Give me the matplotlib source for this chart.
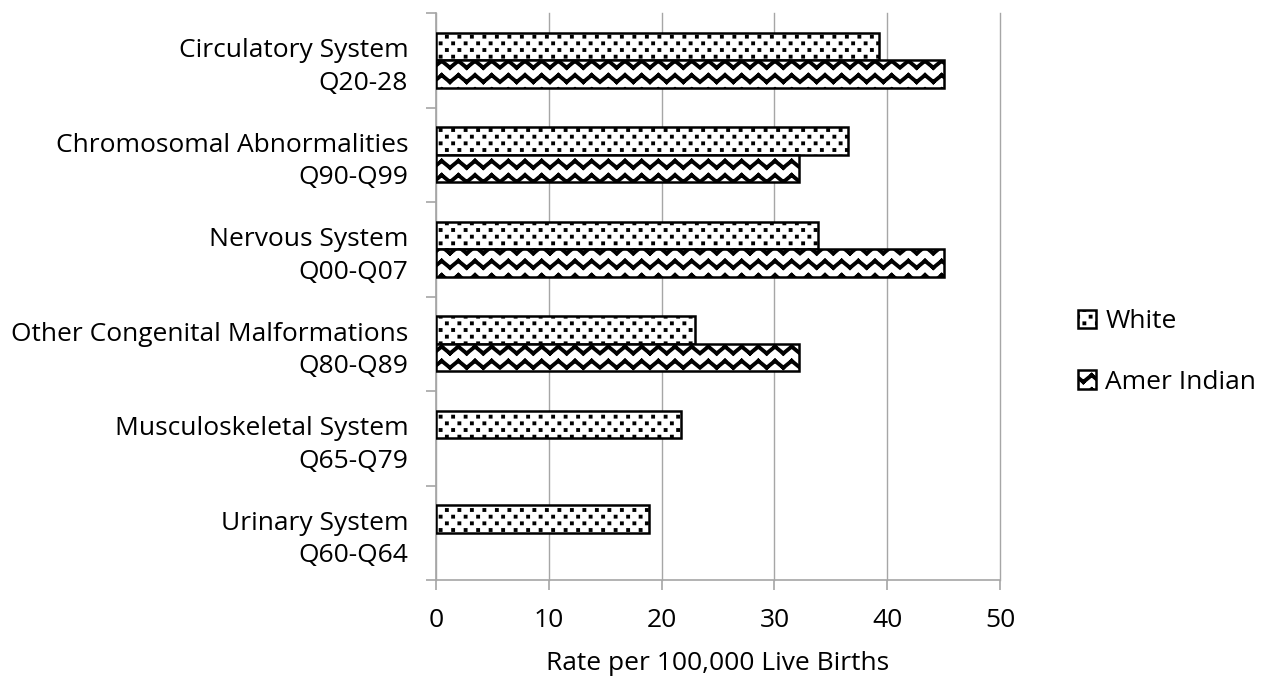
import numpy as np
import matplotlib
matplotlib.use("Agg")
import matplotlib.pyplot as plt
import matplotlib.hatch as mhatch
from matplotlib.path import Path

categories = [
    "Circulatory System\nQ20-28",
    "Chromosomal Abnormalities\nQ90-Q99",
    "Nervous System\nQ00-Q07",
    "Other Congenital Malformations\nQ80-Q89",
    "Musculoskeletal System\nQ65-Q79",
    "Urinary System\nQ60-Q64",
]
white = [39.3, 36.5, 33.9, 23.0, 21.7, 18.9]
amer_indian = [45.0, 32.2, 45.0, 32.2, 0, 0]
series_names = ["White", "Amer Indian"]
xticks = [0, 10, 20, 30, 40, 50]


# excel-like fill patterns: '-' becomes zigzag rows, '.' becomes staggered square dots
class ZigzagHatch(mhatch.HatchPatternBase):
    def __init__(self, hatch, density):
        n = hatch.count('-')
        self.rows = 7 * n
        self.waves = 6 * n
        self.num_vertices = self.rows * self.waves * 4

    def set_vertices_and_codes(self, vertices, codes):
        amp = 0.034
        i = 0
        for r in range(self.rows):
            y0 = (r + 0.5) / self.rows
            for k in range(self.waves):
                xa = k / self.waves
                xb = (k + 0.5) / self.waves
                xc = (k + 1) / self.waves
                pts = [(xa, y0 - amp), (xb, y0 + amp), (xb, y0 + amp), (xc, y0 - amp)]
                for j, p in enumerate(pts):
                    vertices[i] = p
                    codes[i] = Path.MOVETO if j % 2 == 0 else Path.LINETO
                    i += 1


class DotHatch(mhatch.HatchPatternBase):
    def __init__(self, hatch, density):
        n = hatch.count('.')
        self.cols = 8 * n
        self.rows = 15 * n
        self.centers = []
        for r in range(self.rows):
            y = (r + 0.5) / self.rows
            off = 0.5 if r % 2 else 0.0
            for c in range(self.cols):
                x = (c + 0.25 + off) / self.cols
                self.centers.append((x, y))
        self.num_vertices = len(self.centers) * 5

    def set_vertices_and_codes(self, vertices, codes):
        d = DOT_HALF
        i = 0
        for x, y in self.centers:
            for p in [(x - d, y - d), (x + d, y - d), (x + d, y + d), (x - d, y + d), (x - d, y - d)]:
                vertices[i] = p
                i += 1
            codes[i - 5:i] = [Path.MOVETO, Path.LINETO, Path.LINETO, Path.LINETO, Path.CLOSEPOLY]


mhatch._hatch_types = [ZigzagHatch, DotHatch]

plt.rcParams['font.family'] = ['Open Sans', 'DejaVu Sans']
plt.rcParams['hatch.linewidth'] = 2.8
plt.rcParams['hatch.color'] = 'black'

fig = plt.figure(figsize=(12.63, 6.81), dpi=100)
ax = fig.add_axes([436 / 1263, 1 - 580 / 681, (1000 - 436) / 1263, (580 - 13) / 681])

y = np.arange(len(categories))
h = 0.29
bars_w = ax.barh(y - h / 2, white, height=h, color='white', edgecolor='black',
                 linewidth=1.8, hatch='.', label=series_names[0], zorder=3)
bars_a = ax.barh(y + h / 2, amer_indian, height=h, color='white', edgecolor='black',
                 linewidth=1.8, hatch='-', label=series_names[1], zorder=3)

# thinner hatch stroke for the dots if this matplotlib allows it per artist
if hasattr(bars_w[0], 'set_hatch_linewidth'):
    DOT_HALF = 0.011
    for b in bars_w:
        b.set_hatch_linewidth(1.2)
else:
    DOT_HALF = 0.0

# zero-value bars should not show an outline
for p in ax.patches:
    if p.get_width() == 0:
        p.set_visible(False)

fs = 19
ax.set_ylim(len(categories) - 0.5, -0.5)
ax.set_xlim(0, 50)
ax.set_xticks(xticks)
ax.set_yticks(y)
ax.set_yticklabels(categories, fontsize=fs, ha='right', linespacing=1.4)
ax.set_yticks(np.arange(len(categories) + 1) - 0.5, minor=True)
ax.tick_params(axis='y', which='major', length=0, pad=20)
ax.tick_params(axis='y', which='minor', length=7, width=1.2, color='#a6a6a6')
ax.tick_params(axis='x', length=7, width=1.2, color='#a6a6a6', labelsize=fs, pad=13)

ax.grid(axis='x', color='#a6a6a6', linewidth=1.0, zorder=0)
for gl in ax.get_xgridlines():
    gl.set_clip_on(False)
ax.set_axisbelow(True)
for s in ['top', 'right']:
    ax.spines[s].set_visible(False)
for s in ['left', 'bottom']:
    ax.spines[s].set_color('#a6a6a6')
    ax.spines[s].set_linewidth(1.2)

ax.set_xlabel("Rate per 100,000 Live Births", fontsize=fs, labelpad=13)

leg = fig.legend(loc='center left', bbox_to_anchor=(1054 / 1263, 1 - 352 / 681),
                 frameon=False, fontsize=fs, handlelength=0.7, handleheight=0.7,
                 handletextpad=0.35, labelspacing=1.35)
if hasattr(leg.get_patches()[0], 'set_hatch_linewidth'):
    leg.get_patches()[0].set_hatch_linewidth(1.2)

fig.savefig("out.png", dpi=100)
